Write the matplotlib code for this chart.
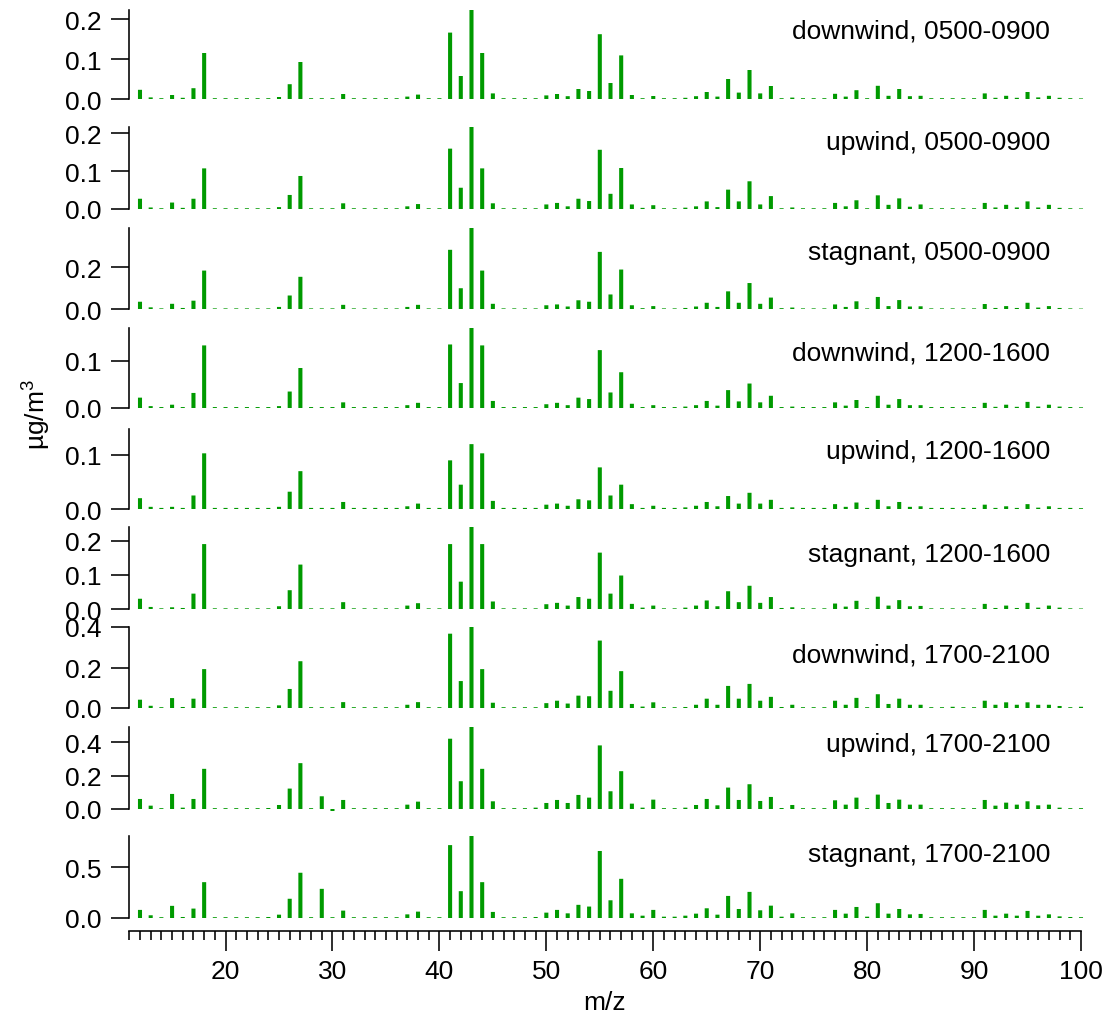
import numpy as np
import matplotlib.pyplot as plt
from matplotlib.ticker import MultipleLocator, FormatStrFormatter

plt.rcParams['font.family'] = ['Liberation Sans', 'DejaVu Sans']
plt.rcParams['mathtext.default'] = 'regular'

# m/z 12..100, one value per unit mass
mz = np.arange(12, 101)

downwind_am = [
    0.023, 0.004, 0.002, 0.010, 0.003, 0.027, 0.115, 0.002, 0.002, 0.002,
    0.002, 0.002, 0.002, 0.005, 0.037, 0.0925, 0.002, 0.002, 0.002, 0.0125,
    0.002, 0.002, 0.002, 0.002, 0.002, 0.006, 0.011, 0.002, 0.002, 0.166,
    0.0575, 0.2225, 0.115, 0.014, 0.002, 0.002, 0.002, 0.002, 0.009, 0.0125,
    0.007, 0.025, 0.020, 0.162, 0.040, 0.109, 0.010, 0.002, 0.0075, 0.002,
    0.002, 0.003, 0.007, 0.0175, 0.006, 0.050, 0.016, 0.0725, 0.014, 0.0325,
    0.002, 0.0035, 0.002, 0.002, 0.002, 0.013, 0.006, 0.022, 0.002, 0.033,
    0.008, 0.025, 0.007, 0.008, 0.002, 0.002, 0.002, 0.002, 0.002, 0.014,
    0.003, 0.008, 0.003, 0.0175, 0.004, 0.008, 0.003, 0.002, 0.0015]

upwind_am = [
    0.027, 0.004, 0.002, 0.017, 0.003, 0.027, 0.107, 0.002, 0.002, 0.002,
    0.002, 0.002, 0.002, 0.005, 0.037, 0.087, 0.002, 0.002, 0.002, 0.015,
    0.002, 0.002, 0.002, 0.002, 0.002, 0.007, 0.013, 0.002, 0.002, 0.159,
    0.056, 0.216, 0.107, 0.015, 0.002, 0.002, 0.002, 0.002, 0.012, 0.016,
    0.007, 0.027, 0.021, 0.156, 0.040, 0.108, 0.012, 0.003, 0.010, 0.002,
    0.002, 0.0035, 0.007, 0.020, 0.005, 0.051, 0.020, 0.073, 0.012, 0.034,
    0.002, 0.004, 0.002, 0.002, 0.002, 0.016, 0.007, 0.023, 0.002, 0.036,
    0.011, 0.028, 0.006, 0.012, 0.002, 0.002, 0.002, 0.002, 0.002, 0.016,
    0.004, 0.011, 0.004, 0.020, 0.004, 0.011, 0.003, 0.002, 0.0015]

stagnant_am = [
    0.035, 0.008, 0.003, 0.025, 0.005, 0.040, 0.185, 0.003, 0.003, 0.003,
    0.003, 0.003, 0.003, 0.010, 0.065, 0.155, 0.003, 0.003, 0.003, 0.020,
    0.003, 0.003, 0.003, 0.003, 0.003, 0.010, 0.020, 0.003, 0.003, 0.285,
    0.100, 0.390, 0.185, 0.025, 0.003, 0.003, 0.003, 0.003, 0.018, 0.022,
    0.012, 0.042, 0.035, 0.275, 0.070, 0.190, 0.018, 0.004, 0.014, 0.003,
    0.003, 0.005, 0.012, 0.030, 0.010, 0.085, 0.030, 0.125, 0.025, 0.055,
    0.004, 0.007, 0.003, 0.003, 0.003, 0.022, 0.010, 0.037, 0.003, 0.058,
    0.014, 0.043, 0.012, 0.013, 0.003, 0.003, 0.003, 0.003, 0.003, 0.024,
    0.005, 0.014, 0.005, 0.030, 0.007, 0.014, 0.005, 0.003, 0.002]

downwind_mid = [
    0.022, 0.004, 0.002, 0.007, 0.002, 0.032, 0.133, 0.002, 0.002, 0.002,
    0.002, 0.002, 0.002, 0.004, 0.035, 0.085, 0.002, 0.002, 0.002, 0.012,
    0.002, 0.002, 0.002, 0.002, 0.002, 0.006, 0.011, 0.002, 0.002, 0.135,
    0.053, 0.170, 0.133, 0.015, 0.002, 0.002, 0.002, 0.002, 0.008, 0.011,
    0.006, 0.022, 0.019, 0.123, 0.033, 0.076, 0.009, 0.002, 0.006, 0.002,
    0.002, 0.003, 0.006, 0.015, 0.005, 0.038, 0.014, 0.052, 0.012, 0.026,
    0.002, 0.003, 0.002, 0.002, 0.002, 0.012, 0.005, 0.017, 0.002, 0.026,
    0.007, 0.019, 0.006, 0.006, 0.002, 0.002, 0.002, 0.002, 0.002, 0.011,
    0.0025, 0.007, 0.0025, 0.013, 0.003, 0.007, 0.003, 0.002, 0.0015]

upwind_mid = [
    0.020, 0.004, 0.002, 0.004, 0.002, 0.025, 0.103, 0.002, 0.002, 0.002,
    0.002, 0.002, 0.002, 0.004, 0.032, 0.070, 0.002, 0.002, 0.002, 0.013,
    0.002, 0.002, 0.002, 0.002, 0.002, 0.005, 0.010, 0.002, 0.002, 0.090,
    0.045, 0.120, 0.103, 0.015, 0.002, 0.002, 0.002, 0.002, 0.008, 0.010,
    0.006, 0.018, 0.016, 0.077, 0.025, 0.045, 0.009, 0.002, 0.006, 0.002,
    0.002, 0.003, 0.006, 0.013, 0.005, 0.024, 0.010, 0.030, 0.010, 0.017,
    0.002, 0.003, 0.002, 0.002, 0.002, 0.009, 0.004, 0.012, 0.002, 0.017,
    0.005, 0.013, 0.004, 0.005, 0.002, 0.002, 0.002, 0.002, 0.002, 0.008,
    0.002, 0.005, 0.002, 0.009, 0.0025, 0.005, 0.002, 0.002, 0.0015]

stagnant_mid = [
    0.030, 0.006, 0.002, 0.005, 0.003, 0.045, 0.190, 0.002, 0.002, 0.002,
    0.002, 0.002, 0.002, 0.008, 0.055, 0.130, 0.002, 0.002, 0.002, 0.020,
    0.002, 0.002, 0.002, 0.002, 0.002, 0.010, 0.017, 0.002, 0.002, 0.190,
    0.080, 0.240, 0.190, 0.022, 0.002, 0.002, 0.002, 0.002, 0.014, 0.018,
    0.010, 0.035, 0.030, 0.165, 0.045, 0.098, 0.015, 0.004, 0.010, 0.002,
    0.002, 0.004, 0.010, 0.025, 0.008, 0.052, 0.020, 0.068, 0.018, 0.035,
    0.003, 0.005, 0.002, 0.002, 0.002, 0.016, 0.007, 0.024, 0.002, 0.036,
    0.010, 0.026, 0.008, 0.009, 0.002, 0.002, 0.002, 0.002, 0.002, 0.015,
    0.003, 0.010, 0.003, 0.018, 0.004, 0.010, 0.004, 0.002, 0.0015]

downwind_pm = [
    0.041, 0.011, 0.004, 0.049, 0.005, 0.046, 0.192, 0.004, 0.004, 0.004,
    0.004, 0.004, 0.004, 0.013, 0.094, 0.231, 0.004, 0.004, 0.004, 0.029,
    0.004, 0.004, 0.004, 0.004, 0.004, 0.016, 0.029, 0.004, 0.004, 0.367,
    0.133, 0.400, 0.192, 0.026, 0.004, 0.004, 0.004, 0.004, 0.024, 0.036,
    0.022, 0.061, 0.058, 0.333, 0.085, 0.182, 0.020, 0.007, 0.028, 0.004,
    0.004, 0.005, 0.016, 0.046, 0.016, 0.109, 0.046, 0.119, 0.036, 0.055,
    0.005, 0.016, 0.004, 0.004, 0.004, 0.036, 0.016, 0.050, 0.004, 0.068,
    0.020, 0.046, 0.016, 0.016, 0.004, 0.004, 0.006, 0.004, 0.004, 0.036,
    0.016, 0.028, 0.016, 0.028, 0.016, 0.016, 0.010, 0.004, 0.006]

upwind_pm = [
    0.060, 0.020, 0.005, 0.090, 0.008, 0.060, 0.240, 0.005, 0.005, 0.005,
    0.005, 0.005, 0.006, 0.024, 0.122, 0.274, 0.005, 0.076, -0.012, 0.054,
    0.005, 0.005, 0.005, 0.005, 0.005, 0.026, 0.044, 0.005, 0.005, 0.420,
    0.166, 0.490, 0.240, 0.046, 0.005, 0.005, 0.005, 0.008, 0.036, 0.054,
    0.036, 0.084, 0.068, 0.380, 0.106, 0.226, 0.032, 0.008, 0.056, 0.005,
    0.005, 0.008, 0.024, 0.060, 0.022, 0.128, 0.054, 0.148, 0.048, 0.072,
    0.006, 0.024, 0.005, 0.005, 0.005, 0.052, 0.026, 0.068, 0.005, 0.086,
    0.036, 0.056, 0.026, 0.026, 0.005, 0.005, 0.005, 0.005, 0.005, 0.054,
    0.020, 0.038, 0.026, 0.046, 0.022, 0.026, 0.008, 0.005, 0.005]

stagnant_pm = [
    0.080, 0.027, 0.008, 0.120, 0.010, 0.093, 0.354, 0.008, 0.008, 0.008,
    0.008, 0.008, 0.010, 0.033, 0.190, 0.447, 0.008, 0.288, 0.008, 0.073,
    0.008, 0.008, 0.008, 0.008, 0.008, 0.036, 0.063, 0.008, 0.008, 0.720,
    0.265, 0.810, 0.354, 0.060, 0.008, 0.008, 0.008, 0.010, 0.053, 0.080,
    0.046, 0.130, 0.113, 0.662, 0.175, 0.387, 0.046, 0.023, 0.080, 0.013,
    0.013, 0.023, 0.043, 0.096, 0.033, 0.218, 0.089, 0.258, 0.076, 0.122,
    0.013, 0.046, 0.008, 0.008, 0.008, 0.080, 0.043, 0.109, 0.013, 0.146,
    0.043, 0.089, 0.036, 0.040, 0.008, 0.008, 0.008, 0.008, 0.008, 0.080,
    0.023, 0.043, 0.023, 0.070, 0.023, 0.036, 0.016, 0.010, 0.008]

labels = ['downwind, 0500-0900', 'upwind, 0500-0900', 'stagnant, 0500-0900',
          'downwind, 1200-1600', 'upwind, 1200-1600', 'stagnant, 1200-1600',
          'downwind, 1700-2100', 'upwind, 1700-2100', 'stagnant, 1700-2100']
spectra = [downwind_am, upwind_am, stagnant_am,
           downwind_mid, upwind_mid, stagnant_mid,
           downwind_pm, upwind_pm, stagnant_pm]
# upper end of each y axis
y_top = [0.2225, 0.216, 0.39, 0.17, 0.148, 0.24, 0.40, 0.49, 0.81]

# panel layout in pixels (baseline, top of axis, label centre) and tick step
W, H = 1109, 1020
PT = 0.72  # points per pixel at dpi 100
x0, x1 = 129.3, 1081.0
base_px = [100, 210, 310, 409, 510, 610, 709, 810, 919]
top_px = [11, 128, 229, 329, 430, 528, 628, 728, 837]
label_px = [31, 143, 253, 353, 452, 555, 655, 745, 855]
ystep = [0.1, 0.1, 0.2, 0.1, 0.1, 0.1, 0.2, 0.2, 0.5]

green = '#009a00'
fs = 19

fig = plt.figure(figsize=(W / 100, H / 100), dpi=100)

for i, vals in enumerate(spectra):
    ax = fig.add_axes([x0 / W, 1 - base_px[i] / H,
                       (x1 - x0) / W, (base_px[i] - top_px[i]) / H])
    bars = ax.bar(mz, vals, width=0.38, color=green, linewidth=0, clip_on=False)
    for b in bars:
        b.set_snap(False)
    ax.set_xlim(11, 100)
    ax.set_ylim(0, y_top[i])
    ax.patch.set_visible(False)
    for s in ['top', 'right']:
        ax.spines[s].set_visible(False)
    ax.spines['left'].set_linewidth(1.6 * PT)
    ax.yaxis.set_major_locator(MultipleLocator(ystep[i]))
    ax.yaxis.set_major_formatter(FormatStrFormatter('%.1f'))
    ax.tick_params(axis='y', direction='out', length=18 * PT, width=1.6 * PT,
                   pad=10 * PT, labelsize=fs)
    ax.text(1050 / W, 1 - label_px[i] / H, labels[i], transform=fig.transFigure,
            ha='right', va='center', fontsize=fs)

    if i < len(spectra) - 1:
        ax.spines['bottom'].set_visible(False)
        ax.set_xticks([])
    else:
        ax.spines['bottom'].set_position(('outward', 13 * PT))
        ax.spines['bottom'].set_linewidth(1.6 * PT)
        ax.xaxis.set_minor_locator(MultipleLocator(1))
        ax.set_xticks(np.arange(20, 101, 10))
        ax.tick_params(axis='x', which='major', direction='out', length=20 * PT,
                       width=1.6 * PT, pad=8 * PT, labelsize=fs)
        ax.tick_params(axis='x', which='minor', direction='out', length=9 * PT,
                       width=1.6 * PT)
        ax.set_xlim(11, 100)

fig.text(37 / W, 1 - 415 / H, 'µg/m$^{3}$', rotation=90, ha='center',
         va='center', fontsize=fs)
fig.text(605 / W, 1 - 1003 / H, 'm/z', ha='center', va='center', fontsize=fs)

fig.savefig('out.png', dpi=100)
